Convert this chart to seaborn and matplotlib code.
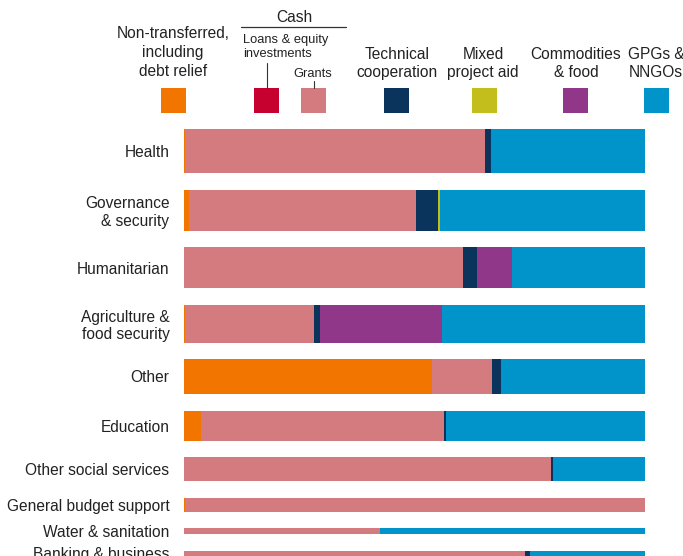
import matplotlib
matplotlib.use("Agg")
import matplotlib.pyplot as plt
import seaborn as sns
import numpy as np
from matplotlib import font_manager as fm
from matplotlib.patches import Rectangle
from matplotlib.lines import Line2D

# ---------------- data ----------------
sectors = ["Health", "Governance\n& security", "Humanitarian", "Agriculture &\nfood security",
           "Other", "Education", "Other social services", "General budget support",
           "Water & sanitation", "Banking & business"]
# relative aid volume -> bar thickness
volume = [44, 41, 41, 38, 35, 30, 24, 14, 6, 6]

categories = ["Non-transferred, including debt relief", "Loans & equity investments", "Grants",
              "Technical cooperation", "Mixed project aid", "Commodities & food", "GPGs & NNGOs"]
non_transferred = [0.3, 1.1, 0.0, 0.3, 53.8, 3.7, 0.0, 0.2, 0.0, 0.0]
loans_equity    = [0.0, 0.0, 0.0, 0.0, 0.0, 0.0, 0.0, 0.0, 0.0, 0.0]
grants          = [64.9, 49.2, 60.5, 27.8, 13.0, 52.7, 79.6, 99.8, 42.6, 73.9]
technical_coop  = [1.3, 4.8, 3.0, 1.3, 2.0, 0.4, 0.4, 0.0, 0.0, 1.1]
mixed_project   = [0.0, 0.4, 0.0, 0.0, 0.0, 0.0, 0.0, 0.0, 0.0, 0.0]
commodities     = [0.0, 0.0, 7.6, 26.5, 0.0, 0.0, 0.0, 0.0, 0.0, 0.0]
gpgs_nngos      = [33.5, 44.5, 28.9, 44.1, 31.2, 43.2, 20.0, 0.0, 57.4, 25.0]

series = [non_transferred, loans_equity, grants, technical_coop, mixed_project, commodities, gpgs_nngos]
colors = ["#F27500", "#C6002F", "#D47B80", "#0B345D", "#C4BE1C", "#91378A", "#0094CB"]

# ---------------- style ----------------
sns.set_theme(style="white")
names = {f.name for f in fm.fontManager.ttflist}
fam = "Liberation Sans" if "Liberation Sans" in names else "DejaVu Sans"
plt.rcParams["font.family"] = [fam, "DejaVu Sans"]
TXT = "#222222"

W, H = 683, 556
fig = plt.figure(figsize=(W / 100, H / 100), dpi=100)

def fx(px):
    return px / W

def fy(py):
    return 1 - py / H

# axes: x from 184px to 645px, y from 120px to bottom
ax_left, ax_right, ax_top, ax_bottom = 184, 645, 120, 556
ax = fig.add_axes([fx(ax_left), fy(ax_bottom), fx(ax_right) - fx(ax_left), (ax_bottom - ax_top) / H])

gap = 16.5
first_top = 9.0
vol = np.array(volume, dtype=float)
tops = first_top + np.concatenate([[0], np.cumsum(vol[:-1] + gap)])
centers = tops + vol / 2

left = np.zeros(len(sectors))
for vals, col in zip(series, colors):
    v = np.array(vals, dtype=float)
    ax.barh(centers, v, height=vol, left=left, color=col, edgecolor="none", linewidth=0)
    left += v

ax.set_xlim(0, 100)
ax.set_ylim(ax_bottom - ax_top, 0)
ax.set_yticks(centers)
ax.set_yticklabels(sectors, fontsize=11.2, color=TXT, multialignment="right")
ax.tick_params(axis="y", length=0, pad=10.5)
ax.set_xticks([])
for s in ax.spines.values():
    s.set_visible(False)
ax.set_facecolor("none")

# ---------------- custom legend ----------------
fs = 11.2
sfs = 9.3
sq = 25
sq_top = 88
keys_x = [161, 254, 301, 384, 472, 563, 644]
for x0, col in zip(keys_x, colors):
    fig.patches.append(Rectangle((fx(x0), fy(sq_top + sq)), sq / W, sq / H,
                                 transform=fig.transFigure, facecolor=col, edgecolor="none"))

def mtext(cx, baselines, lines, size=fs, ha="center"):
    for b, t in zip(baselines, lines):
        fig.text(fx(cx), fy(b), t, ha=ha, va="baseline", fontsize=size, color=TXT)

mtext(173, [38, 57, 76], ["Non-transferred,", "including", "debt relief"])
mtext(294, [22], ["Cash"])
fig.add_artist(Line2D([fx(241), fx(346)], [fy(27), fy(27)], color="#333333", lw=0.9))
mtext(243, [43, 57], ["Loans & equity", "investments"], size=sfs, ha="left")
fig.add_artist(Line2D([fx(266.5), fx(266.5)], [fy(63), fy(88)], color="#333333", lw=0.8))
mtext(313, [77], ["Grants"], size=sfs)
fig.add_artist(Line2D([fx(313.5), fx(313.5)], [fy(81), fy(88)], color="#333333", lw=0.8))
mtext(397, [59, 77], ["Technical", "cooperation"])
mtext(483, [59, 77], ["Mixed", "project aid"])
mtext(576, [59, 77], ["Commodities", "& food"])
mtext(656, [59, 77], ["GPGs &", "NNGOs"])

fig.savefig("out.png", dpi=100, facecolor="white")
